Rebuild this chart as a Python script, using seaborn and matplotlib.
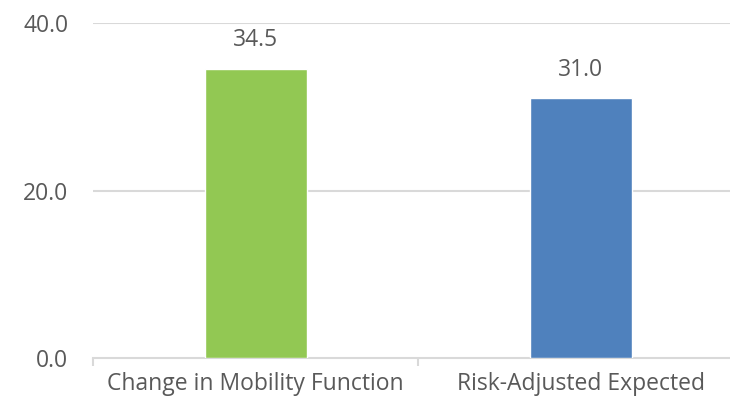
import matplotlib
matplotlib.use('Agg')
import matplotlib.pyplot as plt
import seaborn as sns
import pandas as pd

# Data
categories = ["Change in Mobility Function", "Risk-Adjusted Expected"]
values = [34.5, 31.0]
bar_colors = ["#92C853", "#4F81BD"]
y_ticks = [0.0, 20.0, 40.0]

df = pd.DataFrame({"category": categories, "value": values})

sns.set_theme(style="white")
plt.rcParams['font.family'] = ['Open Sans', 'DejaVu Sans']
text_color = "#595959"
grid_color = "#D9D9D9"
fs = 16.5

fig = plt.figure(figsize=(7.30, 4.09), dpi=100)
ax = fig.add_axes([93.3 / 730, (409 - 358) / 409, 650 / 730, 335 / 409])

sns.barplot(data=df, x="category", y="value", hue="category",
            palette=bar_colors, width=0.314, legend=False, ax=ax,
            saturation=1, zorder=3)

ax.set_xlim(-0.5, 1.5)
ax.set_ylim(0, 40)
ax.set_yticks(y_ticks)
ax.set_yticklabels([f"{v:.1f}" for v in y_ticks])
ax.set_xlabel("")
ax.set_ylabel("")

# gridlines
for v in y_ticks[1:]:
    ax.axhline(v, color=grid_color, lw=1.5, zorder=1)

for s in ["top", "right", "left"]:
    ax.spines[s].set_visible(False)
ax.spines["bottom"].set_color(grid_color)
ax.spines["bottom"].set_linewidth(1.5)

# category separator ticks
ax.set_xticks([-0.5, 0.5, 1.5], minor=True)
ax.tick_params(axis="x", which="minor", length=6, width=1.5, color=grid_color, bottom=True)
ax.tick_params(axis="x", which="major", length=0, pad=10, labelsize=fs, labelcolor=text_color)
ax.tick_params(axis="y", length=0, pad=18, labelsize=fs, labelcolor=text_color)

# value labels
for i, v in enumerate(values):
    ax.annotate(f"{v:.1f}", (i, v), xytext=(0, 12), textcoords="offset points",
                ha="center", va="bottom", fontsize=fs, color=text_color)

fig.savefig("out.png", dpi=100)
